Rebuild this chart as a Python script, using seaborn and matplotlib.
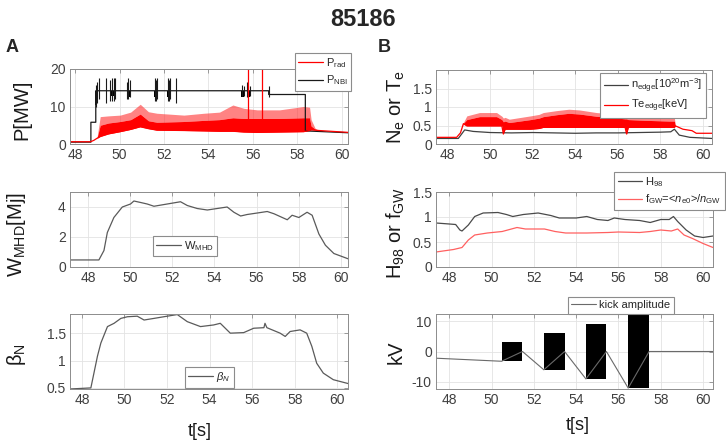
import matplotlib
matplotlib.use('Agg')
import matplotlib.pyplot as plt
import numpy as np
import pandas as pd
import seaborn as sns
from matplotlib.ticker import FuncFormatter

# ---------------- data ----------------
# A, top: heating power
nbi_t = [47.77, 48.71, 48.71, 48.93, 48.93, 56.71, 56.71, 58.36, 58.36, 60.28]
nbi_v = [0.5, 0.5, 5.8, 5.8, 14.2, 14.2, 13.2, 13.2, 3.5, 3.0]
nbi_spike_t = [48.93, 48.99, 49.07, 49.40, 49.55, 49.68, 49.74, 49.80, 50.33, 50.40, 50.48,
               51.60, 51.66, 51.70, 52.16, 52.22, 52.28, 52.55, 55.51, 55.58, 55.73, 55.85, 56.71]
nbi_spike_lo = [10.0, 11.0, 12.0, 11.0, 11.5, 11.5, 11.5, 12.0, 12.0, 12.0, 12.5,
                11.5, 11.5, 12.0, 11.5, 11.5, 12.0, 11.0, 12.7, 12.7, 12.5, 12.7, 12.5]
nbi_spike_hi = [15.7, 16.5, 17.5, 17.5, 17.0, 17.5, 17.5, 17.5, 16.5, 17.5, 17.0,
                17.5, 17.0, 17.5, 17.5, 17.0, 17.5, 17.5, 15.7, 15.5, 16.5, 15.5, 15.5]
nbi_blk_start = [48.90, 49.60, 50.32, 51.55, 52.13, 55.48, 55.75]
nbi_blk_end = [49.00, 49.74, 50.46, 51.68, 52.26, 55.58, 55.85]
nbi_blk_lo = [10.5, 12.7, 12.6, 12.6, 12.6, 12.6, 12.6]
nbi_blk_hi = 14.2

prad_t = [47.77, 48.70, 48.85, 48.98, 49.13, 49.50, 50.03, 50.50, 50.93, 51.30, 51.68, 52.90,
          53.80, 54.50, 55.10, 55.60, 56.20, 57.20, 58.28, 58.55, 58.62, 58.80, 58.97, 60.28]
prad_lo = [0.6, 0.6, 1.0, 1.5, 2.0, 2.7, 3.3, 3.9, 4.6, 4.1, 3.7, 3.6,
           3.5, 3.4, 3.4, 3.2, 3.1, 3.2, 3.3, 3.6, 3.8, 3.7, 3.6, 3.1]
prad_mid = [0.6, 0.6, 1.0, 1.5, 5.0, 5.6, 6.0, 6.5, 8.0, 6.2, 5.8, 6.0,
            6.3, 6.5, 7.0, 6.8, 6.8, 6.8, 7.0, 7.0, 4.8, 4.0, 3.6, 3.1]
prad_hi = [0.6, 0.6, 1.0, 1.5, 7.3, 7.5, 7.7, 8.5, 10.6, 8.6, 8.2, 7.7,
           8.2, 8.5, 10.4, 9.5, 9.1, 9.1, 10.0, 9.8, 6.5, 4.2, 3.6, 3.1]
prad_spike_t = [55.78, 56.41]
prad_spike_top = 20.0

# A, middle: stored energy
w_t = [47.15, 48.52, 48.76, 48.92, 49.23, 49.63, 50.02, 50.18, 50.50, 50.81, 51.13, 51.76,
       52.39, 52.71, 53.18, 53.66, 54.60, 54.92, 55.24, 55.55, 56.03, 56.50, 56.82, 57.45,
       57.68, 58.00, 58.39, 58.63, 58.95, 59.26, 59.66, 60.33]
w_v = [0.47, 0.47, 1.1, 2.3, 3.3, 4.0, 4.2, 4.4, 4.3, 4.2, 4.05, 4.2,
       4.35, 4.1, 3.9, 3.8, 4.0, 3.65, 3.4, 3.5, 3.6, 3.7, 3.55, 3.15,
       3.45, 3.3, 3.65, 3.45, 2.2, 1.45, 0.9, 0.55]

# A, bottom: normalised beta
beta_t = [47.44, 48.42, 48.73, 48.89, 49.20, 49.51, 49.83, 50.14, 50.60, 50.92, 51.39, 51.85,
          52.48, 52.95, 53.57, 54.19, 54.50, 54.97, 55.60, 56.07, 56.55, 56.60, 56.69, 57.31,
          57.55, 57.78, 58.25, 58.56, 58.80, 59.03, 59.34, 59.81, 60.50]
beta_v = [0.48, 0.50, 1.08, 1.32, 1.62, 1.68, 1.77, 1.80, 1.81, 1.74, 1.77, 1.80,
          1.84, 1.71, 1.62, 1.65, 1.68, 1.50, 1.51, 1.59, 1.60, 1.68, 1.60, 1.50,
          1.44, 1.53, 1.56, 1.50, 1.26, 0.95, 0.77, 0.65, 0.58]

# B, top: edge density and temperature
ne_t = [47.45, 48.50, 48.80, 49.20, 50.00, 51.00, 52.00, 53.00, 54.00, 55.00, 56.00, 57.00,
        58.00, 58.50, 58.67, 58.90, 59.40, 60.44]
ne_v = [0.15, 0.15, 0.38, 0.34, 0.31, 0.30, 0.31, 0.30, 0.29, 0.30, 0.30, 0.31,
        0.32, 0.33, 0.40, 0.24, 0.18, 0.15]
te_t = [47.45, 48.42, 48.60, 48.74, 48.90, 49.50, 50.30, 50.55, 50.62, 50.70, 50.90, 51.90,
        52.30, 52.50, 53.10, 53.70, 54.20, 55.00, 55.80, 56.35, 56.42, 56.50, 57.30, 58.40,
        58.67, 58.72, 59.07, 59.50, 59.70, 60.44]
te_lo = [0.18, 0.18, 0.30, 0.55, 0.49, 0.49, 0.49, 0.49, 0.27, 0.40, 0.40, 0.40,
         0.42, 0.45, 0.45, 0.45, 0.45, 0.45, 0.45, 0.45, 0.27, 0.45, 0.45, 0.45,
         0.45, 0.49, 0.40, 0.36, 0.29, 0.29]
te_mid = [0.18, 0.18, 0.30, 0.56, 0.66, 0.74, 0.74, 0.66, 0.60, 0.62, 0.58, 0.66,
          0.70, 0.74, 0.79, 0.83, 0.81, 0.75, 0.71, 0.68, 0.68, 0.66, 0.64, 0.62,
          0.62, 0.49, 0.40, 0.36, 0.29, 0.29]
te_hi = [0.18, 0.18, 0.30, 0.58, 0.76, 0.85, 0.85, 0.75, 0.70, 0.72, 0.67, 0.76,
         0.80, 0.85, 0.90, 0.94, 0.92, 0.85, 0.81, 0.78, 0.78, 0.76, 0.74, 0.70,
         0.70, 0.49, 0.40, 0.36, 0.29, 0.29]

# B, middle: confinement factor and Greenwald fraction
h98_t = [47.37, 48.0, 48.3, 48.5, 48.6, 48.9, 49.2, 49.6, 50.3, 50.7, 51.0, 51.5, 52.2, 52.8,
         53.2, 54.0, 54.5, 55.0, 55.5, 55.8, 56.3, 57.0, 57.5, 58.0, 58.4, 58.6, 58.8, 59.2,
         59.6, 60.0, 60.47]
h98_v = [0.88, 0.86, 0.85, 0.74, 0.72, 0.84, 1.01, 1.08, 1.09, 1.05, 1.01, 1.05, 1.08, 1.03,
         0.98, 0.98, 1.01, 0.95, 0.93, 0.98, 0.95, 0.93, 0.89, 0.95, 0.95, 1.01, 0.91, 0.74,
         0.62, 0.59, 0.62]
fgw_t = [47.37, 48.2, 48.6, 48.9, 49.2, 49.8, 50.5, 51.2, 51.6, 52.5, 53.0, 53.5, 54.5, 55.5,
         56.0, 57.0, 57.5, 58.0, 58.5, 58.8, 59.1, 59.5, 60.0, 60.47]
fgw_v = [0.30, 0.35, 0.39, 0.54, 0.64, 0.68, 0.71, 0.79, 0.76, 0.76, 0.71, 0.68, 0.68, 0.69,
         0.70, 0.69, 0.71, 0.74, 0.72, 0.76, 0.64, 0.57, 0.47, 0.39]

# B, bottom: kick amplitude
kick_t = [47.37, 50.47, 51.46, 52.47, 53.45, 54.46, 55.43, 56.46, 57.45, 60.47]
kick_v = [-2.2, -3.2, 0.0, -6.0, 0.0, -9.0, 0.0, -12.0, 0.0, 0.0]
kick_blk_start = [50.47, 52.47, 54.46, 56.46]
kick_blk_end = [51.46, 53.45, 55.43, 57.45]
kick_blk_amp = [3.0, 6.0, 9.0, 12.0]

# ---------------- style ----------------
sns.set_theme(style='whitegrid')
plt.rcParams['font.family'] = ['Liberation Sans', 'DejaVu Sans']
plt.rcParams['mathtext.fontset'] = 'custom'
plt.rcParams['mathtext.rm'] = 'Liberation Sans'
plt.rcParams['mathtext.it'] = 'Liberation Sans:italic'
plt.rcParams['axes.edgecolor'] = '#8c8c8c'
plt.rcParams['axes.linewidth'] = 0.7
plt.rcParams['grid.color'] = '#e3e3e3'
plt.rcParams['grid.linewidth'] = 0.6

fig = plt.figure(figsize=(7.26, 4.43), dpi=100)
W, H = 726.0, 443.0


def make_axes(left, top, right, bottom):
    return fig.add_axes([left / W, 1 - bottom / H, (right - left) / W, (bottom - top) / H])


def style_axes(ax, xlim, ylim, yticks):
    ax.set_xlim(*xlim)
    ax.set_ylim(*ylim)
    ax.set_xticks(range(48, 61, 2))
    ax.set_yticks(yticks)
    ax.yaxis.set_major_formatter(FuncFormatter(lambda v, p: '%g' % v))
    ax.tick_params(direction='in', length=3, width=0.6, color='#8c8c8c', labelsize=10,
                   labelcolor='#404040', top=True, right=True, pad=3)
    ax.set_xlabel('')
    ax.set_ylabel('')
    ax.grid(True)
    for s in ax.spines.values():
        s.set_visible(True)


def line(ax, t, v, color, lw=0.9, label=None):
    sns.lineplot(x=t, y=v, ax=ax, color=color, linewidth=lw, label=label,
                 estimator=None, sort=False)


def legend(ax, loc, anchor, **kw):
    leg = ax.legend(loc=loc, bbox_to_anchor=(anchor[0] / W, 1 - anchor[1] / H),
                    bbox_transform=fig.transFigure, borderaxespad=0, fontsize=8,
                    frameon=True, fancybox=False, framealpha=1, edgecolor='#8c8c8c',
                    handlelength=2.2, handletextpad=0.3, borderpad=0.3, labelspacing=0.3, **kw)
    leg.get_frame().set_linewidth(0.8)
    return leg


# A top
ax1 = make_axes(70, 69, 348, 144)
line(ax1, nbi_t, nbi_v, '#1a1a1a', label=r'$\mathrm{P_{NBI}}$')
ax1.vlines(nbi_spike_t, nbi_spike_lo, nbi_spike_hi, color='#1a1a1a', linewidth=0.8)
for s, e, lo in zip(nbi_blk_start, nbi_blk_end, nbi_blk_lo):
    ax1.bar(s, nbi_blk_hi - lo, bottom=lo, width=e - s, align='edge', color='black', linewidth=0)
ax1.fill_between(prad_t, prad_mid, prad_hi, color='#ff3030', alpha=0.6, linewidth=0)
ax1.fill_between(prad_t, prad_lo, prad_mid, color='#ff0000', linewidth=0)
line(ax1, prad_t, prad_lo, '#ff0000', label=r'$\mathrm{P_{rad}}$')
ax1.vlines(prad_spike_t, [4.0] * len(prad_spike_t), prad_spike_top, color='#ff0000', linewidth=0.9)
style_axes(ax1, (47.77, 60.28), (0, 20), [0, 10, 20])
h, l = ax1.get_legend_handles_labels()
legend(ax1, 'upper right', (351, 53), handles=[h[1], h[0]], labels=[l[1], l[0]])

# A middle
ax2 = make_axes(70, 192, 348, 267)
line(ax2, w_t, w_v, '#5a5a5a', label=r'$\mathrm{W_{MHD}}$')
style_axes(ax2, (47.15, 60.33), (0, 5), [0, 2, 4])
legend(ax2, 'upper left', (153, 236))

# A bottom
ax3 = make_axes(70, 314, 348, 389)
line(ax3, beta_t, beta_v, '#5a5a5a', label=r'$\beta_N$')
style_axes(ax3, (47.44, 60.5), (0.48, 1.85), [0.5, 1, 1.5])
legend(ax3, 'upper left', (185, 367))

# B top
ax4 = make_axes(436, 70, 712, 144)
line(ax4, ne_t, ne_v, '#404040', label=r'$\mathrm{n_{edge}[10^{20}m^{-3}]}$')
ax4.fill_between(te_t, te_mid, te_hi, color='#ff3030', alpha=0.6, linewidth=0)
ax4.fill_between(te_t, te_lo, te_mid, color='#ff0000', linewidth=0)
line(ax4, te_t, te_lo, '#ff0000', label=r'$\mathrm{Te_{edge}[keV]}$')
style_axes(ax4, (47.45, 60.44), (0, 2), [0, 0.5, 1, 1.5])
legend(ax4, 'upper right', (706, 73))

# B middle
ax5 = make_axes(436, 192, 713, 267)
line(ax5, h98_t, h98_v, '#4a4a4a', label=r'$\mathrm{H_{98}}$')
line(ax5, fgw_t, fgw_v, '#ff6060', label=r'$\mathrm{f_{GW}}$=<$\mathit{n}_{\mathrm{e0}}$>/$\mathit{n}_{\mathrm{GW}}$')
style_axes(ax5, (47.37, 60.47), (0, 1.5), [0, 0.5, 1, 1.5])
legend(ax5, 'upper right', (725, 172))

# B bottom
ax6 = make_axes(436, 314, 713, 389)
line(ax6, kick_t, kick_v, '#6a6a6a', lw=0.8, label='kick amplitude')
for s, e, a in zip(kick_blk_start, kick_blk_end, kick_blk_amp):
    ax6.bar(s, 2 * a, bottom=-a, width=e - s, align='edge', color='black', linewidth=0)
style_axes(ax6, (47.37, 60.47), (-12.3, 12.3), [-10, 0, 10])
legend(ax6, 'upper left', (568, 297))

# text
fig.text(363 / W, 1 - 20 / H, '85186', ha='center', va='center', fontsize=17, fontweight='bold')
fig.text(12 / W, 1 - 48 / H, 'A', ha='center', va='center', fontsize=13, fontweight='bold')
fig.text(384 / W, 1 - 48 / H, 'B', ha='center', va='center', fontsize=13, fontweight='bold')

lab = dict(rotation=90, ha='center', va='center', fontsize=14.5, color='#1a1a1a')
fig.text(22 / W, 1 - 110 / H, 'P[MW]', **lab)
fig.text(16 / W, 1 - 235 / H, r'$\mathrm{W_{MHD}[Mj]}$', **lab)
fig.text(16 / W, 1 - 355 / H, r'$\mathrm{\beta_N}$', **lab)
fig.text(396 / W, 1 - 107 / H, r'$\mathrm{N_e}$ or $\mathrm{T_e}$', **lab)
fig.text(396 / W, 1 - 233 / H, r'$\mathrm{H_{98}}$ or $\mathrm{f_{GW}}$', **lab)
fig.text(396 / W, 1 - 352 / H, 'kV', **lab)
fig.text(200 / W, 1 - 432 / H, 't[s]', ha='center', va='center', fontsize=13, color='#1a1a1a')
fig.text(578 / W, 1 - 425 / H, 't[s]', ha='center', va='center', fontsize=13, color='#1a1a1a')

fig.savefig('out.png', dpi=100)
